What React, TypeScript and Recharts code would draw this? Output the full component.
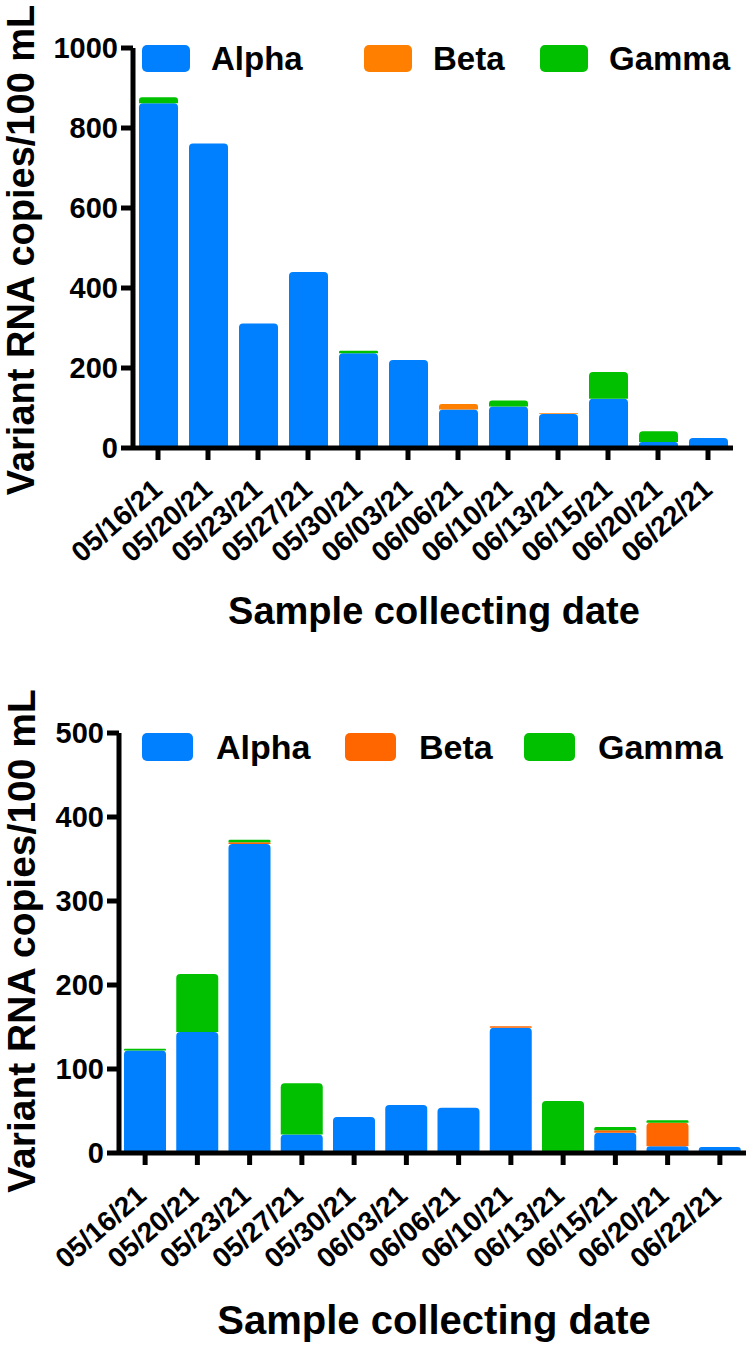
import React from 'react';
import { BarChart, Bar, XAxis, YAxis, Legend } from 'recharts';

// sample dates, same for both panels
const dates = [
  '05/16/21', '05/20/21', '05/23/21', '05/27/21', '05/30/21', '06/03/21',
  '06/06/21', '06/10/21', '06/13/21', '06/15/21', '06/20/21', '06/22/21',
];

// top panel (copies/100 mL)
const alphaTop = [862, 761, 311, 440, 237, 220, 96, 104, 85, 123, 15, 25];
const betaTop = [0, 0, 0, 0, 0, 0, 14, 0, 2, 0, 0, 0];
const gammaTop = [15, 0, 0, 0, 6, 0, 0, 15, 0, 67, 27, 0];
const ticksTop = [0, 200, 400, 600, 800, 1000];

// bottom panel
const alphaBottom = [122, 144, 368, 22, 43, 57, 54, 149, 0, 24, 8, 7];
const betaBottom = [0, 0, 2, 0, 0, 0, 0, 2, 0, 3, 28, 0];
const gammaBottom = [2, 69, 3, 61, 0, 0, 0, 0, 62, 4, 3, 0];
const ticksBottom = [0, 100, 200, 300, 400, 500];

const FONT = '"Liberation Sans", Arial, Helvetica, sans-serif';
const BLUE = '#0080FF';
const GREEN = '#00C000';

const topData = dates.map((d, i) => ({ date: d, Alpha: alphaTop[i], Beta: betaTop[i], Gamma: gammaTop[i] }));
const bottomData = dates.map((d, i) => ({ date: d, Alpha: alphaBottom[i], Beta: betaBottom[i], Gamma: gammaBottom[i] }));

interface PanelProps {
  data: any[];
  ticks: number[];
  max: number;
  top: number;
  height: number;
  margin: { top: number; right: number; bottom: number; left: number };
  yWidth: number;
  barSize: number;
  betaColor: string;
  legendTop: number;
  legendX: number[];
  swatch: [number, number];
  legendGap: number;
  legendFont: number;
  tickDx: number;
  tickDy: number;
  yTitle: { x: number; y: number; size: number };
  xTitle: { y: number; size: number };
}

const makeDateTick = (dx: number, dy: number) => (props: any) => {
  const { x, y, payload } = props;
  const ax = x + dx;
  const ay = y + dy;
  return (
    <text
      x={ax}
      y={ay}
      transform={`rotate(-41, ${ax}, ${ay})`}
      textAnchor="end"
      fontSize={28}
      fontWeight={700}
      fontFamily={FONT}
      fill="#000"
    >
      {payload.value}
    </text>
  );
};

const Panel: React.FC<PanelProps> = (p) => {
  const series = [
    { key: 'Alpha', color: BLUE },
    { key: 'Beta', color: p.betaColor },
    { key: 'Gamma', color: GREEN },
  ];

  const renderLegend = () => (
    <div style={{ position: 'relative', width: 750, height: p.swatch[1] }}>
      {series.map((s, i) => (
        <div
          key={s.key}
          style={{ position: 'absolute', left: p.legendX[i], top: 0, display: 'flex', alignItems: 'center', height: p.swatch[1] }}
        >
          <span style={{ display: 'block', width: p.swatch[0], height: p.swatch[1], background: s.color, borderRadius: 5 }} />
          <span style={{ marginLeft: p.legendGap, fontSize: p.legendFont, fontWeight: 700, fontFamily: FONT, color: '#000', lineHeight: 1 }}>
            {s.key}
          </span>
        </div>
      ))}
    </div>
  );

  return (
    <div style={{ position: 'absolute', left: 0, top: p.top, width: 750, height: p.height }}>
      <BarChart width={750} height={p.height} data={p.data} margin={p.margin} barSize={p.barSize}>
        <XAxis
          dataKey="date"
          height={150}
          interval={0}
          axisLine={{ stroke: '#000', strokeWidth: 5 }}
          tickLine={{ stroke: '#000', strokeWidth: 5 }}
          tickSize={12}
          tickMargin={0}
          tick={makeDateTick(p.tickDx, p.tickDy)}
          label={() => (
            <text
              x={434}
              y={p.xTitle.y}
              textAnchor="middle"
              fontSize={p.xTitle.size}
              fontWeight={700}
              fontFamily={FONT}
              fill="#000"
            >
              Sample collecting date
            </text>
          )}
        />
        <YAxis
          width={p.yWidth}
          domain={[0, p.max]}
          ticks={p.ticks}
          interval={0}
          axisLine={{ stroke: '#000', strokeWidth: 5 }}
          tickLine={{ stroke: '#000', strokeWidth: 5 }}
          tickSize={12}
          tickMargin={3}
          tick={{ fill: '#000', fontSize: 29, fontWeight: 700, fontFamily: FONT }}
          label={() => (
            <text
              transform={`translate(${p.yTitle.x}, ${p.yTitle.y}) rotate(-90)`}
              textAnchor="middle"
              fontSize={p.yTitle.size}
              fontWeight={700}
              fontFamily={FONT}
              fill="#000"
            >
              Variant RNA copies/100 mL
            </text>
          )}
        />
        <Legend
          layout="horizontal"
          verticalAlign="middle"
          align="center"
          content={renderLegend}
          wrapperStyle={{ top: p.legendTop, left: 0, width: 750 }}
        />
        {series.map((s) => (
          <Bar
            key={s.key}
            dataKey={s.key}
            stackId="v"
            fill={s.color}
            radius={[4, 4, 0, 0]}
            isAnimationActive={false}
          />
        ))}
      </BarChart>
    </div>
  );
};

export default function App() {
  return (
    <div style={{ position: 'absolute', left: 0, top: 0, width: 750, height: 1346, background: '#fff' }}>
      <Panel
        data={topData}
        ticks={ticksTop}
        max={1000}
        top={0}
        height={660}
        margin={{ top: 48, right: 17, bottom: 62, left: 33 }}
        yWidth={100}
        barSize={39}
        betaColor="#FF8000"
        legendTop={45}
        legendX={[142, 364, 540]}
        swatch={[48, 27]}
        legendGap={21}
        legendFont={33}
        tickDx={6}
        tickDy={32}
        yTitle={{ x: 34, y: 250, size: 38 }}
        xTitle={{ y: 624, size: 38 }}
      />
      <Panel
        data={bottomData}
        ticks={ticksBottom}
        max={500}
        top={660}
        height={686}
        margin={{ top: 73, right: 4, bottom: 43, left: 39 }}
        yWidth={80}
        barSize={42}
        betaColor="#FF6600"
        legendTop={73}
        legendX={[142, 345, 524]}
        swatch={[51, 28]}
        legendGap={23}
        legendFont={34}
        tickDx={3}
        tickDy={33}
        yTitle={{ x: 35, y: 281, size: 39 }}
        xTitle={{ y: 674, size: 40 }}
      />
    </div>
  );
}
